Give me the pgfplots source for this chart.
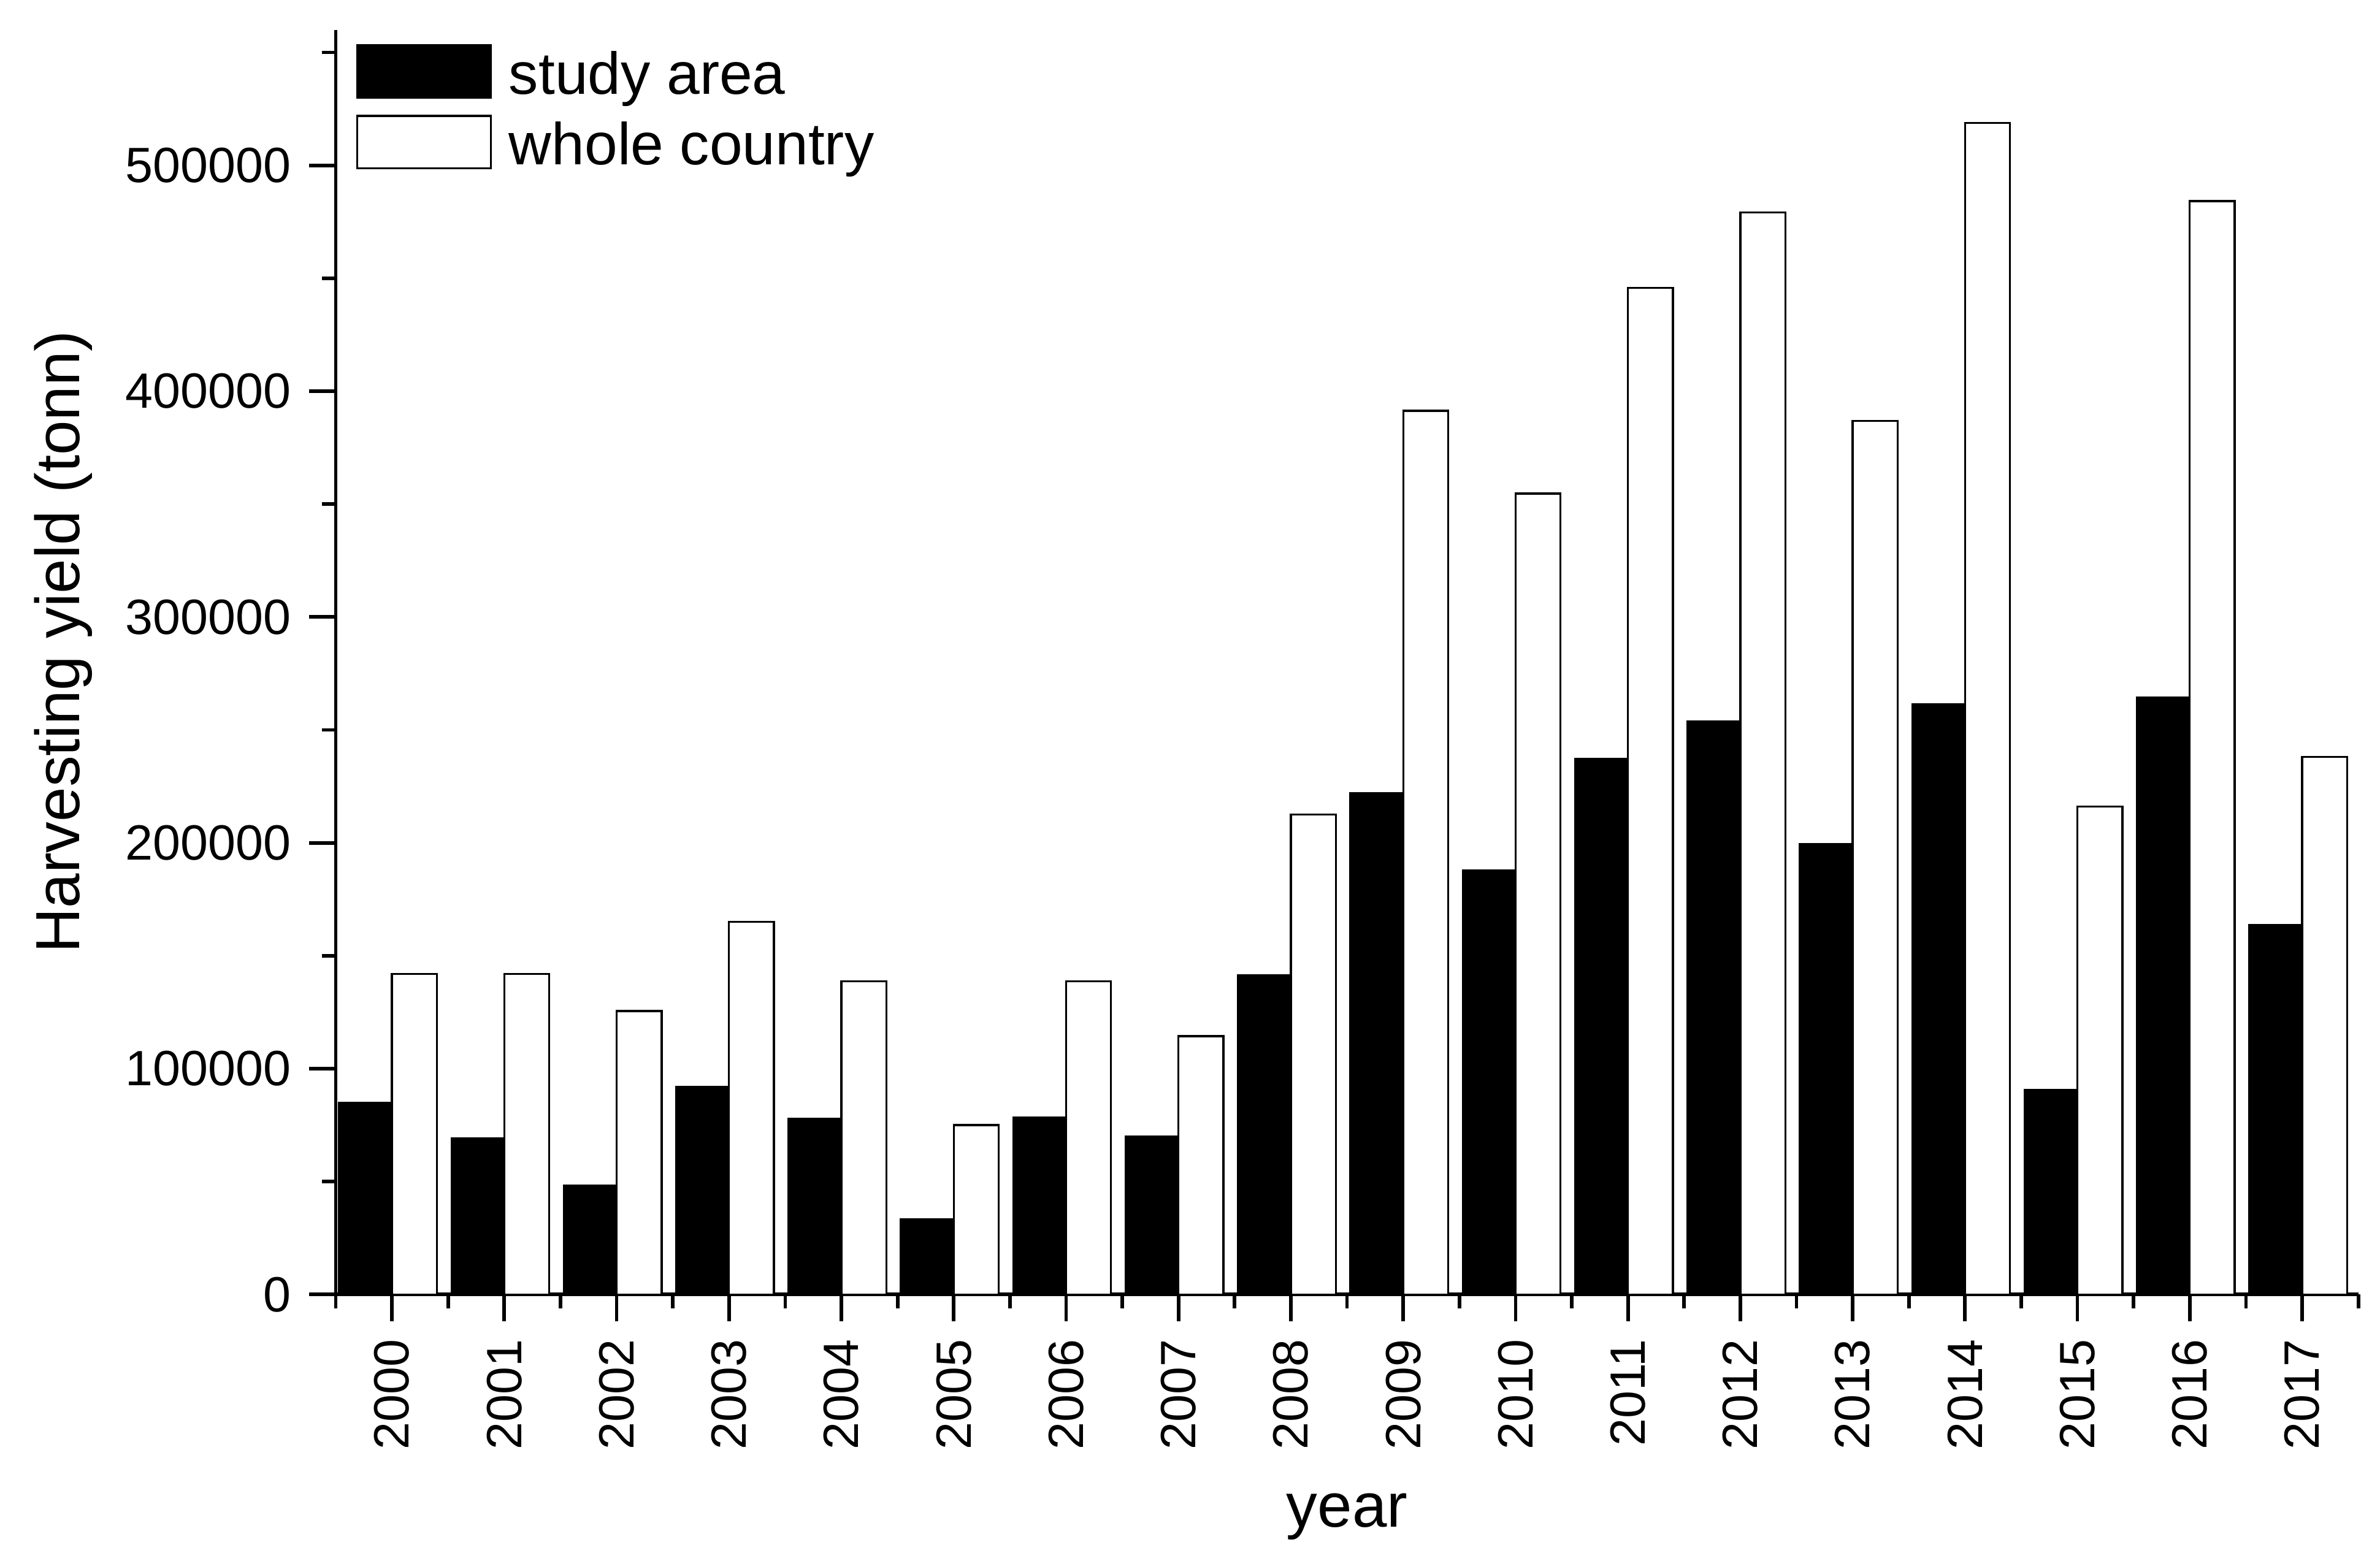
\documentclass[border=0pt]{standalone}
\usepackage{fontspec}
\setmainfont{Liberation Sans}
\usepackage{pgfplots}
\pgfplotsset{compat=1.18}
\pgfplotsset{boxlegend/.style={legend image code/.code={\draw[##1] (0pt,-4.2pt) rectangle (26.4pt,6.2pt);}}}
\begin{document}
\begin{tikzpicture}
\useasboundingbox (-66.36pt,-52.59pt) rectangle (404.04pt,255.9pt);
\begin{axis}[
  at={(0pt,0pt)}, anchor=south west,
  scale only axis, width=399.75pt, height=250pt,
  xmin=-0.5, xmax=17.5, ymin=0, ymax=560000,
  axis x line*=bottom, axis y line*=left,
  axis line style={line width=0.7pt, -},
  tick align=outside,
  major tick length=5.3pt, minor tick length=2.7pt,
  tick style={black, line width=0.7pt},
  xtick={0,...,17},
  xticklabels={2000,2001,2002,2003,2004,2005,2006,2007,2008,2009,2010,2011,2012,2013,2014,2015,2016,2017},
  minor xtick={-0.5,0.5,...,17.5},
  ytick={0,100000,200000,300000,400000,500000},
  minor ytick={50000,150000,250000,350000,450000,550000},
  scaled y ticks=false,
  yticklabel style={/pgf/number format/fixed, /pgf/number format/1000 sep={}},
  /pgf/number format/assume math mode=true,
  ticklabel style={font=\fontsize{9.8}{11}\selectfont},
  xticklabel style={rotate=90, anchor=east},
  xlabel={year}, ylabel={Harvesting yield (tonn)},
  label style={font=\fontsize{12.3}{14}\selectfont},
  xlabel style={at={(axis description cs:0.5,-0.1836)}, anchor=base},
  ylabel style={at={(axis description cs:-0.12658,0.516)}, anchor=base},
  legend cell align=left,
  legend style={draw=none, fill=none, inner sep=0pt, outer sep=0pt,
    at={(axis description cs:0.0101,0.9888)}, anchor=north west,
    font=\fontsize{11.7}{14}\selectfont, row sep=2.6pt,
    nodes={inner sep=0pt},
    /tikz/every odd column/.append style={column sep=3.4pt}},
]
\addplot[ybar, bar width=0.47, bar shift=-0.235, fill=black, draw=black, line width=0.4pt, boxlegend]
  coordinates {(0,85000) (1,69200) (2,48300) (3,92000) (4,77800) (5,33200) (6,78300) (7,69900)
    (8,141300) (9,222000) (10,187700) (11,237100) (12,253700) (13,199400) (14,261300)
    (15,90700) (16,264400) (17,163500)};
\addlegendentry{study area}
\addplot[ybar, bar width=0.40, bar shift=0.20, fill=white, draw=black, line width=0.4pt, boxlegend]
  coordinates {(0,141900) (1,141900) (2,125500) (3,165000) (4,138600) (5,75000) (6,138600) (7,114400)
    (8,212600) (9,391300) (10,354700) (11,445700) (12,479200) (13,386900) (14,518800)
    (15,216000) (16,484200) (17,238100)};
\addlegendentry{whole country}
\end{axis}
\end{tikzpicture}
\end{document}
